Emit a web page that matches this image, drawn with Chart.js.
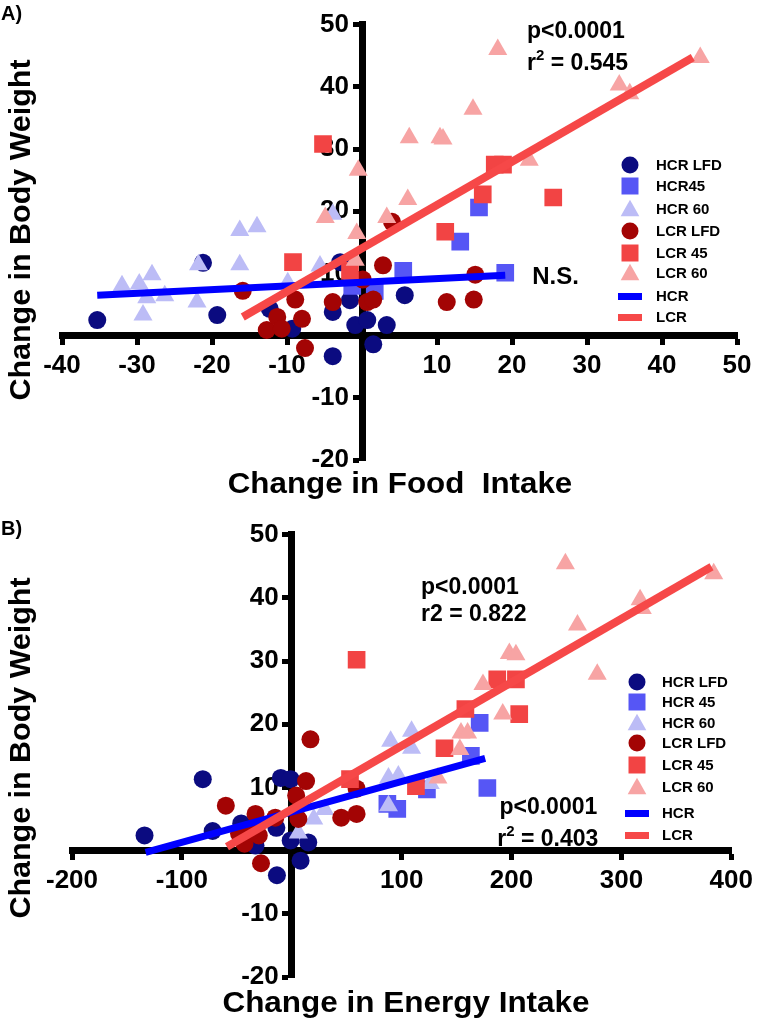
<!DOCTYPE html>
<html>
<head>
<meta charset="utf-8">
<script src="https://cdn.jsdelivr.net/npm/chart.js@4.4.1/dist/chart.umd.min.js"></script>
<style>
  body { margin: 0; background: #fff; }
  canvas { display: block; }
</style>
</head>
<body>
<canvas id="chartA" width="762" height="510"></canvas>
<canvas id="chartB" width="762" height="510"></canvas>
<script>
// ---- panel A: change in food intake (x) vs change in body weight (y) ----
var groupNamesA = ['HCR LFD', 'HCR45', 'HCR 60', 'LCR LFD', 'LCR 45', 'LCR 60'];
var foodHcrLfd = [[-35.3, 2.5], [-21.2, 11.7], [-19.3, 3.3], [-12.3, 4.3], [-9.3, 1.1], [-3.9, 3.8], [-3.9, -3.3],
  [-2.9, 11.8], [-1.6, 5.7], [-0.9, 1.7], [0.7, 2.5], [1.5, -1.4], [3.3, 1.7], [5.7, 6.5]];
var foodHcr45 = [[-1.3, 8.0], [1.7, 7.2], [5.5, 10.4], [13.1, 15.1], [15.6, 20.6], [19.1, 10.1]];
var foodHcr60 = [[-32, 8], [-29.7, 8.3], [-28, 9.8], [-28.7, 6.1], [-26.3, 6.4], [-29.2, 3.3], [-22, 5.4],
  [-21.8, 11.4], [-16.3, 16.9], [-14, 17.5], [-16.3, 11.4], [-9.9, 8.5], [-5.6, 11.2], [-3.9, 19.5]];
var foodLcrLfd = [[-15.9, 7.2], [-12.7, 0.9], [-11.3, 3.0], [-10.7, 1.1], [-8.9, 5.8], [-8, 2.7], [-7.6, -2],
  [-3.9, 5.4], [0.1, 9.0], [0.7, 5.4], [1.5, 5.8], [2.8, 11.3], [4, 18.3], [11.3, 5.4], [15.1, 9.8], [14.9, 5.8]];
var foodLcr45 = [[-5.2, 30.8], [-9.2, 11.8], [-1.6, 10.4], [11.1, 16.7], [16.1, 22.7], [17.7, 27.5], [18.8, 27.5], [25.5, 22.2]];
var foodLcr60 = [[-0.5, 26.6], [-4.9, 19], [-0.7, 16.4], [-0.9, 12.1], [3.3, 19], [6.1, 21.9], [6.3, 31.8], [10.4, 31.8],
  [10.8, 31.6], [14.8, 36.4], [18.1, 46], [22.3, 28.2], [34.3, 40.3], [35.7, 38.9], [45.1, 44.7]];
var foodFitHcr = [[-35.3, 6.5], [19.1, 9.7]];
var foodFitLcr = [[-15.9, 3.0], [44.1, 44.7]];
var foodXTicks = [-40, -30, -20, -10, 10, 20, 30, 40, 50];

// ---- panel B: change in energy intake (x) vs change in body weight (y) ----
var groupNamesB = ['HCR LFD', 'HCR 45', 'HCR 60', 'LCR LFD', 'LCR 45', 'LCR 60'];
var energyHcrLfd = [[-134, 2.4], [-81, 11.3], [-72, 3.1], [-46, 4.3], [-33, 0.8], [-10, 11.5], [-1, 11.3],
  [-14, 3.6], [-1, 1.6], [15, 1.3], [8, -1.6], [-13.5, -3.9]];
var energyHcr45 = [[171, 20.2], [163, 15], [178, 9.9], [123, 9.7], [87, 7.4], [96, 6.6]];
var energyHcr60 = [[6, 2.8], [20, 5], [30, 6.5], [88, 11.5], [97, 11.8], [90, 17.3], [109, 18.9], [109, 16.2],
  [88, 7.1], [126, 10.6]];
var energyLcrLfd = [[17, 17.6], [13, 11], [4, 8.7], [-60, 7.1], [-33, 5.8], [-15, 5.2], [6, 5], [45, 5.2], [59, 5.8],
  [59, 9.8], [-43, 1.1], [-30, 2.4], [-37, 3.1], [-28, -2], [-48, 2.7]];
var energyLcr45 = [[59, 30.2], [53, 11.3], [139, 16.2], [158, 22.4], [187, 27.1], [204, 27.1], [207, 21.6], [113, 10.2]];
var energyLcr60 = [[249, 45.4], [384, 43.8], [317, 39.7], [319, 38.3], [260, 35.7], [198, 31.2], [204, 31], [278, 27.9],
  [174, 26.3], [192, 21.6], [154, 18.6], [160, 18.6], [153, 16], [133, 11.5]];
var energyFitHcr = [[-133, -0.3], [176, 14.6]];
var energyFitLcr = [[-59, 0.6], [382, 44.9]];
var energyXTicks = [-200, -100, 100, 200, 300, 400];

var weightYTicks = [-20, -10, 10, 20, 30, 40, 50];
var fitNames = ['HCR', 'LCR'];

// styles
var fontFamily = "'Liberation Sans', Arial, Helvetica, sans-serif";
var groupColors = ['#0b0b80', '#5656f5', '#bcbcf6', '#a30404', '#f24444', '#f7a4a4'];
var groupShapes = ['circle', 'rect', 'triangle', 'circle', 'rect', 'triangle'];
var groupRadius = [9, 12.5, 11, 9, 12.5, 11];
var fitColors = ['#0000ff', '#f64848'];
var fitWidths = [7, 8];

function pts(arr) {
  return arr.map(function(p) { return {x: p[0], y: p[1]}; });
}

function buildDatasets(names, groups, fits) {
  var sets = [];
  for (var i = 0; i < groups.length; i++) {
    sets.push({
      label: names[i],
      data: pts(groups[i]),
      pointStyle: groupShapes[i],
      pointRadius: groupRadius[i],
      pointBackgroundColor: groupColors[i],
      pointBorderWidth: 0,
      showLine: false,
      order: 10 - i
    });
  }
  for (var j = 0; j < fits.length; j++) {
    sets.push({
      label: fitNames[j],
      data: pts(fits[j]),
      showLine: true,
      pointRadius: 0,
      borderColor: fitColors[j],
      borderWidth: fitWidths[j],
      order: 1 - j
    });
  }
  return sets;
}

// axes cross at zero; the y labels get a trailing en space so they clear the axis line
function axisOpts(min, max, tickValues, pos, suffix) {
  return {
    type: 'linear', min: min, max: max, position: pos,
    afterBuildTicks: function(scale) {
      scale.ticks = tickValues.map(function(v) { return {value: v}; });
    },
    grid: {drawOnChartArea: false, drawTicks: true, tickLength: 6, tickWidth: 5, tickColor: '#000'},
    border: {display: true, color: '#000', width: 7},
    ticks: {color: '#000', padding: 9, autoSkip: false, maxRotation: 0,
      callback: function(v) { return v + suffix; },
      font: {family: fontFamily, size: 26, weight: 'bold'}}
  };
}

function drawMarker(ctx, shape, x, y, size, color) {
  ctx.fillStyle = color;
  ctx.beginPath();
  if (shape === 'circle') {
    ctx.arc(x, y, size / 2, 0, Math.PI * 2);
  } else if (shape === 'rect') {
    ctx.rect(x - size / 2, y - size / 2, size, size);
  } else {
    ctx.moveTo(x, y - size * 0.55);
    ctx.lineTo(x + size * 0.55, y + size * 0.42);
    ctx.lineTo(x - size * 0.55, y + size * 0.42);
    ctx.closePath();
  }
  ctx.fill();
}

function decorPlugin(d) {
  return {
    id: 'decor',
    afterDraw: function(chart) {
      var ctx = chart.ctx, xs = chart.scales.x, ys = chart.scales.y;
      ctx.save();
      ctx.fillStyle = '#000';
      ctx.textBaseline = 'alphabetic';

      // panel letter
      ctx.textAlign = 'left';
      ctx.font = 'bold 20px ' + fontFamily;
      ctx.fillText(d.letter, 1, d.letterY);

      // axis titles
      ctx.font = 'bold 29px ' + fontFamily;
      ctx.textAlign = 'center';
      ctx.save();
      ctx.translate(d.yTitle[0], d.yTitle[1]);
      ctx.rotate(-Math.PI / 2);
      ctx.scale(d.yTitle[2], 1);
      ctx.fillText('Change in Body Weight', 0, 0);
      ctx.restore();
      ctx.save();
      ctx.translate(d.xTitle[0], d.xTitle[1]);
      ctx.scale(d.xTitle[2], 1);
      ctx.fillText(d.xText, 0, 0);
      ctx.restore();

      // statistics notes, anchored in data units
      ctx.textAlign = 'left';
      d.notes.forEach(function(n) {
        var x = xs.getPixelForValue(n.x), y = ys.getPixelForValue(n.y);
        n.parts.forEach(function(part) {
          var sup = part.charAt(0) === '^';
          var txt = sup ? part.slice(1) : part;
          ctx.font = 'bold ' + (sup ? 15 : n.size) + 'px ' + fontFamily;
          ctx.fillText(txt, x, sup ? y - 10 : y);
          x += ctx.measureText(txt).width;
        });
      });

      // legend
      ctx.font = 'bold 15px ' + fontFamily;
      ctx.textBaseline = 'middle';
      chart.data.datasets.forEach(function(ds, i) {
        var y = d.legendRows[i];
        if (ds.showLine) {
          ctx.fillStyle = ds.borderColor;
          ctx.fillRect(d.legendX - 12, y - 3, 24, 7);
        } else {
          drawMarker(ctx, ds.pointStyle, d.legendX, y, 17, ds.pointBackgroundColor);
        }
        ctx.fillStyle = '#000';
        ctx.fillText(ds.label, d.legendTextX, y + 1);
      });
      ctx.restore();
    }
  };
}

function makeChart(id, datasets, xMin, xMax, xTicks, pad, decor) {
  return new Chart(document.getElementById(id), {
    type: 'scatter',
    data: {datasets: datasets},
    options: {
      responsive: false,
      animation: false,
      events: [],
      layout: {padding: pad},
      plugins: {legend: {display: false}, tooltip: {enabled: false}},
      scales: {
        x: axisOpts(xMin, xMax, xTicks, {y: 0}, ''),
        y: axisOpts(-20, 50, weightYTicks, {x: 0}, '\u2002')
      }
    },
    plugins: [decorPlugin(decor)]
  });
}

makeChart('chartA',
  buildDatasets(groupNamesA, [foodHcrLfd, foodHcr45, foodHcr60, foodLcrLfd, foodLcr45, foodLcr60], [foodFitHcr, foodFitLcr]),
  -40, 50, foodXTicks,
  {left: 62, right: 25, top: 16, bottom: 50},
  {
    letter: 'A)', letterY: 20,
    yTitle: [30, 230, 1.05], xTitle: [400, 493, 1.08], xText: 'Change in Food  Intake',
    notes: [
      {x: 22, y: 47.9, size: 23, parts: ['p<0.0001']},
      {x: 22, y: 42.7, size: 23, parts: ['r', '^2', ' = 0.545']},
      {x: 22.7, y: 8.3, size: 24, parts: ['N.S.']}
    ],
    legendX: 630, legendTextX: 656,
    legendRows: [165, 186, 209, 231, 253, 273, 296, 317]
  });

makeChart('chartB',
  buildDatasets(groupNamesB, [energyHcrLfd, energyHcr45, energyHcr60, energyLcrLfd, energyLcr45, energyLcr60], [energyFitHcr, energyFitLcr]),
  -200, 400, energyXTicks,
  {left: 72, right: 27, top: 23, bottom: 43},
  {
    letter: 'B)', letterY: 25,
    yTitle: [30, 238, 1.05], xTitle: [406, 502, 1.085], xText: 'Change in Energy Intake',
    notes: [
      {x: 117.6, y: 40.6, size: 23, parts: ['p<0.0001']},
      {x: 117.6, y: 36.4, size: 23, parts: ['r2 = 0.822']},
      {x: 189, y: 5.8, size: 23, parts: ['p<0.0001']},
      {x: 187, y: 0.8, size: 23, parts: ['r', '^2', ' = 0.403']}
    ],
    legendX: 637, legendTextX: 662,
    legendRows: [172, 192, 213, 233, 255, 277, 303, 325]
  });
</script>
</body>
</html>
